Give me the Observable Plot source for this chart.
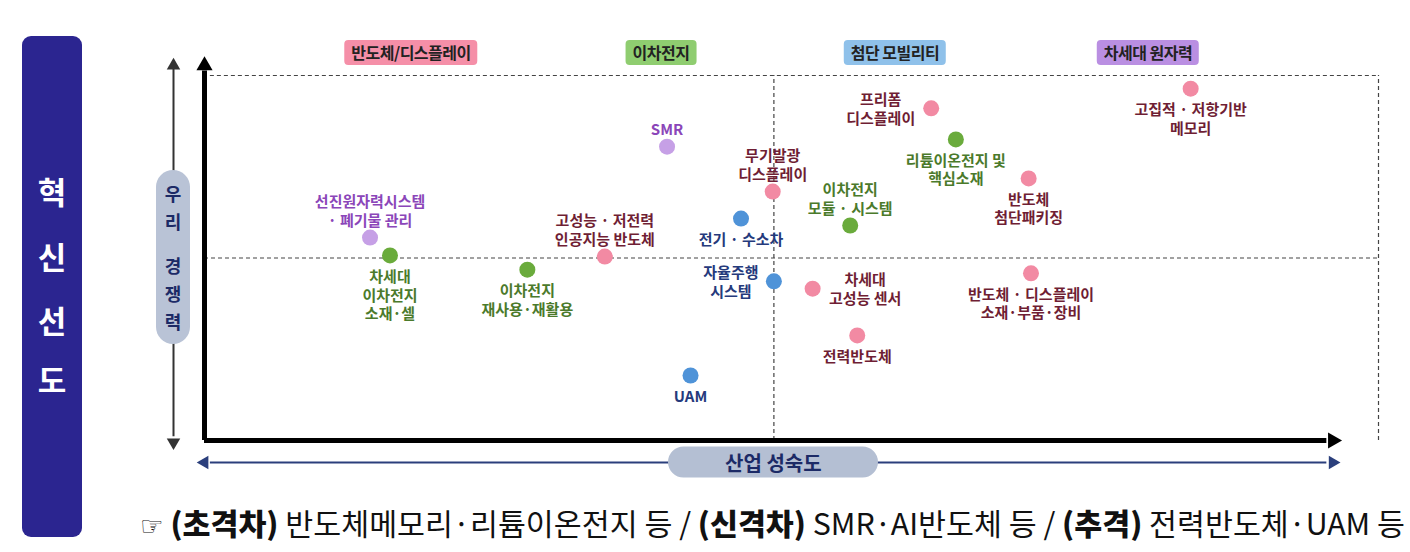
<!DOCTYPE html>
<html><head><meta charset="utf-8">
<script src="https://cdn.jsdelivr.net/npm/d3@7"></script>
<script src="https://cdn.jsdelivr.net/npm/@observablehq/plot@0.6"></script>
<style>
body{margin:0;background:#fff;font-family:"Noto Sans CJK KR","Noto Sans",sans-serif;}
#wrap{position:relative;width:1410px;height:552px;overflow:hidden;background:#fff;}
#chart{position:absolute;left:0;top:0;}
.banner{position:absolute;left:22px;top:36px;width:60px;height:501px;background:#2b2590;border-radius:9px;}
.banner span{position:absolute;left:0;width:60px;text-align:center;color:#fff;font-weight:bold;font-size:31px;line-height:32px;}
.cat{position:absolute;top:40px;height:25px;line-height:25px;padding:0 7px;border-radius:4px;font-size:16px;font-weight:bold;color:#222;transform:translateX(-50%);white-space:nowrap;letter-spacing:-0.5px;}
.pillv{position:absolute;width:34px;background:#b9c3d6;border-radius:17px;color:#1c2a66;font-weight:bold;font-size:18px;text-align:center;transform:translate(-50%,-50%);}
.pillv div{line-height:28px;}
.pillh{position:absolute;height:31px;line-height:31px;width:210px;background:#b4bfd3;border-radius:16px;color:#1c2a66;font-weight:bold;font-size:20px;text-align:center;transform:translate(-50%,-50%);}
.caption{position:absolute;left:140px;top:503px;font-size:30px;line-height:38px;white-space:nowrap;color:#111;transform-origin:0 50%;}
.caption b{font-weight:900;}
.caption .hand{font-family:"DejaVu Sans";font-size:26px;}
</style></head>
<body><div id="wrap"></div>
<script>
// ---- data ----
const categories = ["반도체/디스플레이", "이차전지", "첨단 모빌리티", "차세대 원자력"];
const catFill   = ["#f58fa8", "#8fcd70", "#8fc1ea", "#ba8fe2"];
const dotColor  = ["#f28aa3", "#6aab3c", "#4f93d8", "#c6a0e6"];
const textColor = ["#6f1e34", "#4b7a2b", "#253a7c", "#8b46b9"];

const names = [
  "선진원자력시스템\n· 폐기물 관리",
  "차세대\n이차전지\n소재·셀",
  "이차전지\n재사용·재활용",
  "고성능 · 저전력\n인공지능 반도체",
  "SMR",
  "UAM",
  "전기 · 수소차",
  "자율주행\n시스템",
  "무기발광\n디스플레이",
  "이차전지\n모듈 · 시스템",
  "차세대\n고성능 센서",
  "전력반도체",
  "프리폼\n디스플레이",
  "리튬이온전지 및\n핵심소재",
  "반도체\n첨단패키징",
  "반도체 · 디스플레이\n소재·부품·장비",
  "고집적 · 저항기반\n메모리"
];
const group = [3, 1, 1, 0, 3, 2, 2, 2, 0, 1, 0, 0, 0, 1, 0, 0, 0];
const maturity        = [14.1, 15.8, 27.5, 34.1, 39.4, 41.4, 45.7, 48.5, 48.4, 55.0, 51.8, 55.6, 61.9, 64.0, 70.2, 70.4, 84.0];
const competitiveness = [55.6, 50.7, 46.8, 50.4, 80.5, 17.8, 60.8, 43.6, 68.2, 58.9, 41.6, 28.8, 91.0, 82.5, 71.8, 45.8, 96.4];
const labelSide = ["above","below","below","above","above","below","below","left","above","above","right","below","left","below","below","below","below"];

const xTitle = "산업 성숙도";
const yTitle = [["우", "리"], ["경", "쟁", "력"]];
const bannerChars = ["혁", "신", "선", "도"];
const captionGroups = ["초격차", "신격차", "추격"];
const captionItems = ["반도체메모리·리튬이온전지 등", "SMR·AI반도체 등", "전력반도체·UAM 등"];

// scale frame
const X_MAX = 100, Y_MAX = 100, MID_X = 48.5, MID_Y = 50;

// ---- build ----
const pts = names.map((n, i) => ({name: n, cat: group[i], x: maturity[i], y: competitiveness[i], side: labelSide[i]}));
const FS = 15;
function estW(s) {
  return Math.max(...s.split("\n").map(line => {
    let w = 0;
    for (const c of line) w += /[\uac00-\ud7a3]/.test(c) ? FS : (c === " " ? 4 : 8);
    return w;
  }));
}
const common = {x: "x", y: "y", text: "name", fill: d => textColor[d.cat], fontSize: FS, fontWeight: "bold", lineHeight: 1.25};

const H = 490, ML = 204, MR = 32, MT = 75, MB = 50;
const yArrow = -6.0, xArrowEnd = 96.1, xLeftArrow = -2.64, yTop = 102.7;

const dash = {stroke: "#444", strokeWidth: 1.2, strokeDasharray: "4,3"};
const marks = [
  Plot.ruleY([Y_MAX], {x1: 0.5, x2: X_MAX, ...dash}),
  Plot.ruleX([X_MAX], {y1: 0, y2: Y_MAX, ...dash}),
  Plot.ruleY([MID_Y], {x1: 0, x2: X_MAX, ...dash}),
  Plot.ruleX([MID_X], {y1: 0, y2: Y_MAX, ...dash}),
  // main axes
  Plot.ruleX([0], {y1: 0, y2: yTop - 1.5, stroke: "#000", strokeWidth: 5}),
  Plot.ruleY([0], {x1: 0, x2: xArrowEnd - 0.5, stroke: "#000", strokeWidth: 5}),
  Plot.dot([{x: 0, y: yTop}], {x: "x", y: "y", symbol: "triangle", r: 6, fill: "#000"}),
  Plot.dot([{x: xArrowEnd, y: 0}], {x: "x", y: "y", symbol: "triangle", r: 6, fill: "#000", rotate: 90}),
  // left double arrow
  Plot.ruleX([xLeftArrow], {y1: 1, y2: yTop - 1, stroke: "#333", strokeWidth: 2}),
  Plot.dot([{x: xLeftArrow, y: yTop}], {x: "x", y: "y", symbol: "triangle", r: 5, fill: "#333"}),
  Plot.dot([{x: xLeftArrow, y: -0.5}], {x: "x", y: "y", symbol: "triangle", r: 5, fill: "#333", rotate: 180}),
  // bottom double arrow
  Plot.ruleY([yArrow], {x1: 0.5, x2: xArrowEnd - 0.5, stroke: "#2b3f7c", strokeWidth: 2}),
  Plot.dot([{x: 0, y: yArrow}], {x: "x", y: "y", symbol: "triangle", r: 5, fill: "#2b3f7c", rotate: 270}),
  Plot.dot([{x: xArrowEnd, y: yArrow}], {x: "x", y: "y", symbol: "triangle", r: 5, fill: "#2b3f7c", rotate: 90}),
  // points
  Plot.dot(pts, {x: "x", y: "y", r: 8, fill: d => dotColor[d.cat]}),
  Plot.text(pts.filter(d => d.side === "above"), {...common, lineAnchor: "bottom", dy: -12}),
  Plot.text(pts.filter(d => d.side === "below"), {...common, lineAnchor: "top", dy: 13}),
  ...pts.filter(d => d.side === "left").map(d => Plot.text([d], {...common, textAnchor: "middle", dx: -(13 + estW(d.name) / 2)})),
  ...pts.filter(d => d.side === "right").map(d => Plot.text([d], {...common, textAnchor: "middle", dx: (13 + estW(d.name) / 2)}))
];

const chart = Plot.plot({
  width: 1410, height: H,
  marginLeft: ML, marginRight: MR, marginTop: MT, marginBottom: MB,
  x: {domain: [0, X_MAX], axis: null},
  y: {domain: [0, Y_MAX], axis: null},
  color: {type: "identity"},
  clip: false,
  style: {fontFamily: "'Noto Sans CJK KR', 'Noto Sans', sans-serif", background: "transparent", overflow: "visible"},
  marks
});
chart.id = "chart";
const wrap = document.getElementById("wrap");
wrap.appendChild(chart);

const sx = chart.scale("x"), sy = chart.scale("y");

// banner
const banner = document.createElement("div");
banner.className = "banner";
const bannerY = [139, 204, 268, 327];
bannerChars.forEach((c, i) => {
  const s = document.createElement("span");
  s.textContent = c;
  s.style.top = bannerY[i] + "px";
  banner.appendChild(s);
});
wrap.appendChild(banner);

// category labels
const catX = [411, 661, 895, 1148];
categories.forEach((c, i) => {
  const d = document.createElement("div");
  d.className = "cat";
  d.textContent = c;
  d.style.left = catX[i] + "px";
  d.style.background = catFill[i];
  wrap.appendChild(d);
});

// vertical pill
const pv = document.createElement("div");
pv.className = "pillv";
pv.style.left = sx.apply(xLeftArrow) + "px";
pv.style.top = (sy.apply(MID_Y) - 1) + "px";
pv.style.padding = "9px 0";
yTitle.forEach((grp, gi) => {
  grp.forEach(c => { const e = document.createElement("div"); e.textContent = c; pv.appendChild(e); });
  if (gi === 0) { const sp = document.createElement("div"); sp.style.height = "16px"; pv.appendChild(sp); }
});
wrap.appendChild(pv);

// horizontal pill
const ph = document.createElement("div");
ph.className = "pillh";
ph.textContent = xTitle;
ph.style.left = sx.apply(MID_X) + "px";
ph.style.top = sy.apply(yArrow) + "px";
wrap.appendChild(ph);

// caption
const cap = document.createElement("div");
cap.className = "caption";
let html = '<span class="hand">☞</span> ';
captionGroups.forEach((g, i) => {
  html += `<b>(${g})</b> ${captionItems[i]}` + (i < captionGroups.length - 1 ? " / " : "");
});
cap.innerHTML = html;
wrap.appendChild(cap);
const cw = cap.getBoundingClientRect().width;
cap.style.transform = `scaleX(${1265 / cw})`;
</script>
</body></html>
